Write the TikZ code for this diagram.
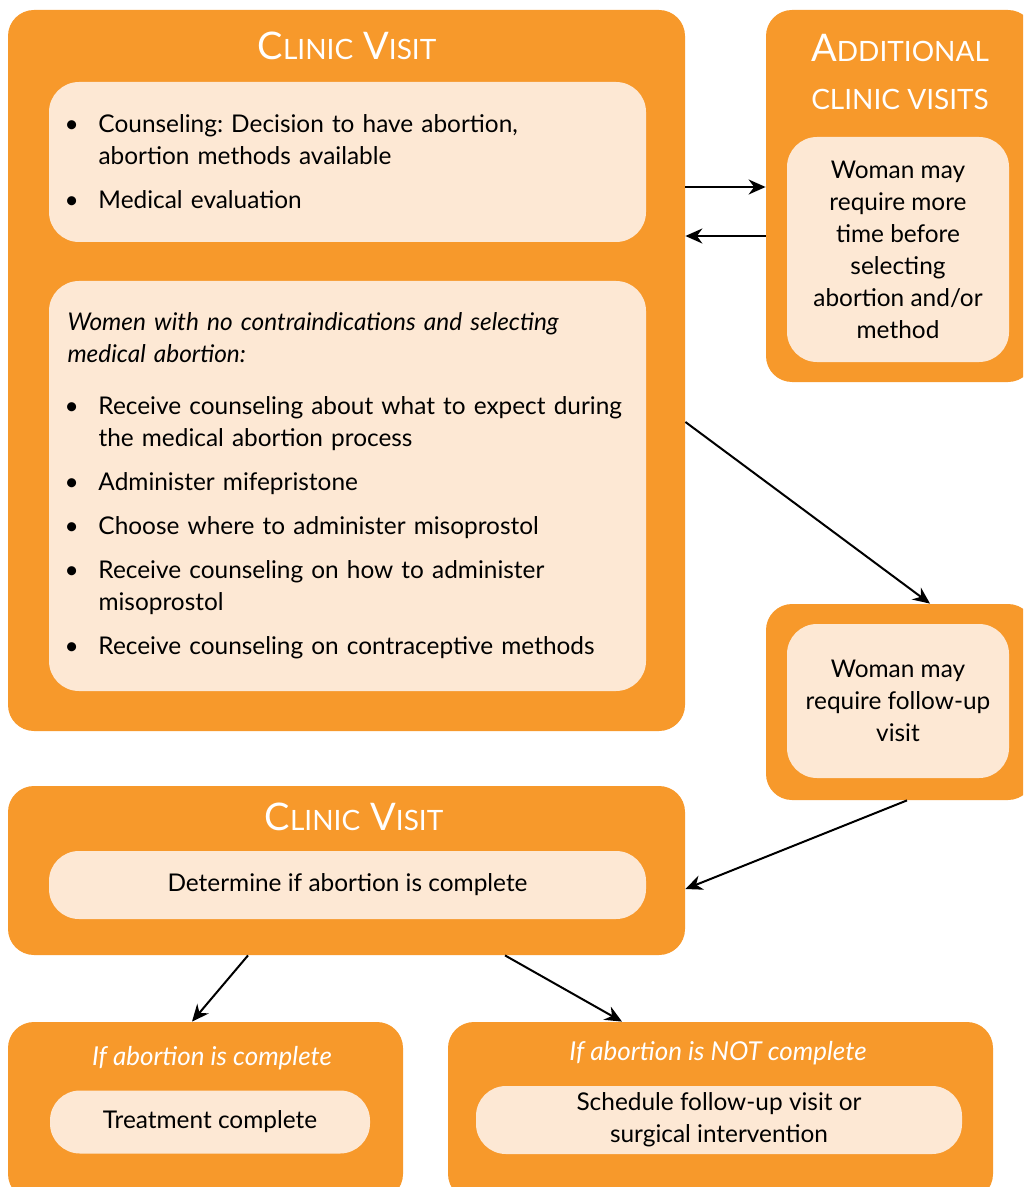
\documentclass[tikz,border=0pt]{standalone}
\usepackage{fontspec}
\setmainfont{Lato}
\usepackage{xcolor}
\usepackage{tikz}
\usetikzlibrary{arrows.meta,fit}
\definecolor{visitorange}{RGB}{247,153,43}
\definecolor{visitpeach}{RGB}{253,232,212}
\frenchspacing
\newcommand{\bodyfont}{\fontsize{12.2}{16}\selectfont}
\newcommand{\headit}{\fontsize{13}{16}\selectfont\itshape}
\newcommand{\fakesc}[2]{{\fontsize{19}{19}\selectfont #1}{\fontsize{14}{14}\selectfont #2}}
\newcommand{\bitem}[1]{\hangindent=15.5pt\hangafter=1\noindent\makebox[15.5pt][l]{\hspace{-1.5pt}\textbullet}#1\par}

\begin{document}
\begin{tikzpicture}[x=0.5pt, y=-0.5pt,
      visit/.style={fill=visitorange, rounded corners=13pt, inner sep=0pt},
      inbox/.style={fill=visitpeach, rounded corners=15pt, inner sep=0pt,
                    font=\bodyfont, execute at begin node={\parindent=0pt\parskip=6pt}},
      head/.style={text=white, inner sep=0pt},
      arr/.style={-{Stealth[length=8.5pt,width=7.5pt]}, line width=1pt}
  ]
    \useasboundingbox (0,0) rectangle (1023,1187);
    \clip (0,0) rectangle (1023,1187);

    % first visit
    \node[visit, fit={(8,10) (685,731)}] (visit1) {};
    \node[head, anchor=base] (visit1t) at (347,60) {\fakesc{C}{LINIC}\hspace{5pt}\fakesc{V}{ISIT}};
    \node[inbox, minimum width=298.5pt, minimum height=80pt, text width=280pt, align=left] (eval) at (347.5,162)
      {\bitem{Counseling: Decision to have abortion,\newline abortion methods available}%
       \bitem{Medical evaluation}};
    \node[inbox, minimum width=298.5pt, minimum height=205pt, text width=280pt, align=left] (steps) at (347.5,486)
      {{\itshape Women with no contraindications and selecting\newline medical abortion:}\par\vspace{4pt}%
       \bitem{Receive counseling about what to expect during\newline the medical abortion process}%
       \bitem{Administer mifepristone}%
       \bitem{Choose where to administer misoprostol}%
       \bitem{Receive counseling on how to administer\newline misoprostol}%
       \bitem{Receive counseling on contraceptive methods}};

    % additional visits
    \node[visit, fit={(766,10) (1034,382)}] (more) {};
    \node[head, anchor=base] (moret1) at (900,62) {\fakesc{A}{DDITIONAL}};
    \node[head, anchor=base, font=\fontsize{14}{14}\selectfont] (moret2) at (900,110) {CLINIC VISITS};
    \node[inbox, minimum width=111pt, minimum height=112.5pt, align=center] (moretime) at (898,249.5)
      {Woman may\\ require more\\ time before\\ selecting\\ abortion and/or\\ method};

    % follow-up
    \node[visit, fit={(766,604) (1034,800)}] (follow) {};
    \node[inbox, minimum width=111pt, minimum height=77pt, align=center] (followup) at (898,701)
      {Woman may\\ require follow-up\\ visit};

    % second visit
    \node[visit, fit={(8,786) (685,955)}] (visit2) {};
    \node[head, anchor=base] (visit2t) at (354,830) {\fakesc{C}{LINIC}\hspace{5pt}\fakesc{V}{ISIT}};
    \node[inbox, minimum width=298.5pt, minimum height=34pt] (check) at (347.5,885)
      {Determine if abortion is complete};

    % outcomes
    \node[visit, fit={(8,1022) (403,1200)}] (done) {};
    \node[head, anchor=base, font=\headit] (donet) at (212,1065) {If abortion is complete};
    \node[inbox, minimum width=160pt, minimum height=31.5pt] (treat) at (210,1122)
      {Treatment complete};
    \node[visit, fit={(448,1022) (993,1200)}] (notdone) {};
    \node[head, anchor=base, font=\headit] (notdonet) at (718,1060) {If abortion is NOT complete};
    \node[inbox, minimum width=243pt, minimum height=34pt, align=center] (sched) at (719,1120)
      {Schedule follow-up visit or\\ surgical intervention};

    \draw[arr] (visit1.east |- 0,187) -- (more.west |- 0,187);
    \draw[arr] (more.west |- 0,236) -- (visit1.east |- 0,236);
    \draw[arr] (visit1.east |- 0,422) -- (follow.north -| 930,0);
    \draw[arr] (follow.south -| 907,0) -- (visit2.east |- 0,889);
    \draw[arr] (visit2.south -| 248,0) -- (done.north -| 192,0);
    \draw[arr] (visit2.south -| 505,0) -- (notdone.north -| 622,0);
  \end{tikzpicture}
\end{document}
